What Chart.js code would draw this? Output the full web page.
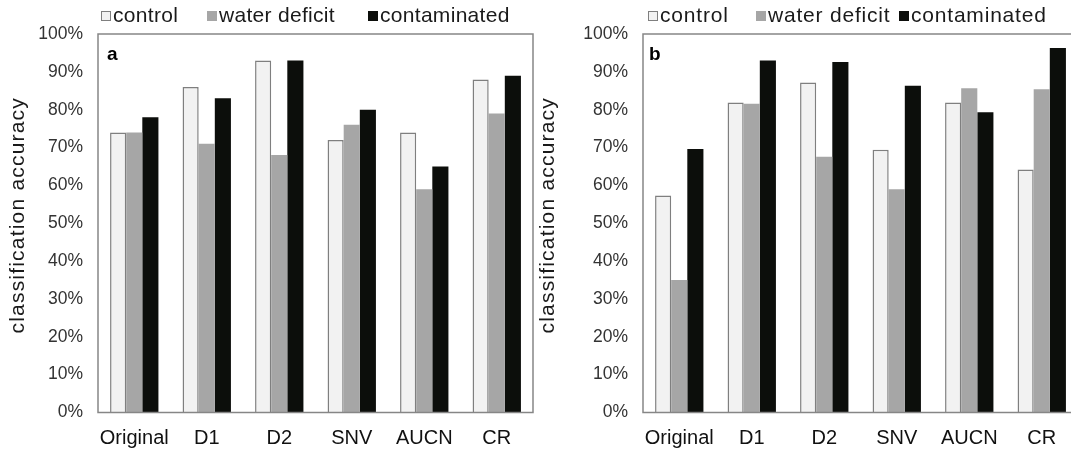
<!DOCTYPE html>
<html>
<head>
<meta charset="utf-8">
<script src="https://cdn.jsdelivr.net/npm/chart.js@4/dist/chart.umd.min.js"></script>
<style>
  html, body { margin: 0; padding: 0; background: #ffffff; overflow: hidden; }
  #wrap { position: relative; width: 1071px; height: 450px; overflow: hidden; background: #ffffff; }
  canvas { position: absolute; top: 0; }
  #chartA { left: 0; }
  #chartB { left: 530px; }
</style>
</head>
<body>
<div id="wrap">
  <canvas id="chartA" width="538" height="450" style="width:538px;height:450px"></canvas>
  <canvas id="chartB" width="560" height="450" style="width:560px;height:450px"></canvas>
</div>
<script>
// Pre-processing methods on the x axis
const categories = ['Original', 'D1', 'D2', 'SNV', 'AUCN', 'CR'];
const seriesNames = ['control', 'water deficit', 'contaminated'];
const yTicks = [0, 10, 20, 30, 40, 50, 60, 70, 80, 90, 100];

// Panel a: classification accuracy (%)
const controlA      = [74, 86, 93, 72, 74, 88];
const waterDeficitA = [74, 71, 68, 76, 59, 79];
const contaminatedA = [78, 83, 93, 80, 65, 89];

// Panel b: classification accuracy (%)
const controlB      = [57.3, 81.9, 87.2, 69.4, 81.9, 64.2];
const waterDeficitB = [35.0, 81.6, 67.6, 59.0, 85.7, 85.4];
const contaminatedB = [69.6, 93.0, 92.6, 86.3, 79.3, 96.3];

const FONT = "'Liberation Sans', Arial, sans-serif";
Chart.defaults.font.family = FONT;

const seriesStyle = [
  { backgroundColor: '#f2f2f2', borderColor: '#7f7f7f', borderWidth: 1.5 },
  { backgroundColor: '#a6a6a6', borderColor: '#a6a6a6', borderWidth: 0 },
  { backgroundColor: '#0c0e0b', borderColor: '#0c0e0b', borderWidth: 0 }
];

// Grey box around the plotting area
const framePlugin = {
  id: 'frame',
  afterDatasetsDraw(chart) {
    const { ctx, chartArea: a } = chart;
    ctx.save();
    ctx.strokeStyle = '#868686';
    ctx.lineWidth = 1.5;
    ctx.strokeRect(a.left, a.top, a.right - a.left, a.bottom - a.top);
    ctx.restore();
  }
};

// Slightly tracked-out lettering for the y-axis title, nudged upward
const titleSpacingPlugin = {
  id: 'titleSpacing',
  beforeDraw(chart, args, opts) {
    const y = chart.scales.y;
    if (y && !y._spaced) {
      const orig = y.drawTitle;
      y.drawTitle = function () {
        const ctx = this.ctx;
        ctx.save();
        ctx.letterSpacing = opts.spacing + 'px';
        ctx.translate(0, opts.shift);
        orig.apply(this, arguments);
        ctx.restore();
      };
      y._spaced = true;
    }
  }
};

// Compact legend row above the plot (square marker directly before each name)
const legendRowPlugin = {
  id: 'legendRow',
  afterDraw(chart, args, opts) {
    const ctx = chart.ctx;
    ctx.save();
    ctx.font = opts.size + 'px ' + FONT;
    ctx.letterSpacing = opts.spacing + 'px';
    ctx.textBaseline = 'alphabetic';
    ctx.textAlign = 'left';
    chart.data.datasets.forEach((ds, i) => {
      const x = opts.x[i], s = opts.box, t = opts.boxTop;
      ctx.fillStyle = ds.backgroundColor;
      ctx.fillRect(x, t, s, s);
      if (ds.borderWidth) {
        ctx.strokeStyle = ds.borderColor;
        ctx.lineWidth = 1;
        ctx.strokeRect(x + 0.5, t + 0.5, s - 1, s - 1);
      }
      ctx.fillStyle = opts.color;
      ctx.fillText(ds.label, x + s + opts.gap, opts.baseline);
    });
    ctx.restore();
  }
};

// Panel letter in the upper-left corner of the plot
const panelLetterPlugin = {
  id: 'panelLetter',
  afterDraw(chart, args, opts) {
    const { ctx, chartArea: a } = chart;
    ctx.save();
    ctx.font = 'bold ' + opts.size + 'px ' + FONT;
    ctx.fillStyle = '#000000';
    ctx.textBaseline = 'alphabetic';
    ctx.fillText(opts.text, a.left + opts.dx, a.top + opts.dy);
    ctx.restore();
  }
};

function makeChart(canvasId, letter, control, water, contaminated, geo) {
  const values = [control, water, contaminated];
  return new Chart(document.getElementById(canvasId), {
    type: 'bar',
    data: {
      labels: categories,
      datasets: seriesNames.map((name, i) => Object.assign({
        label: name,
        data: values[i],
        borderSkipped: 'start',
        categoryPercentage: 0.667,
        barPercentage: 1.0
      }, seriesStyle[i]))
    },
    options: {
      responsive: false,
      animation: false,
      events: [],
      layout: { padding: { left: 0, right: geo.padRight, top: 34, bottom: 0 } },
      plugins: {
        legend: { display: false },
        tooltip: { enabled: false },
        titleSpacing: { spacing: 1.2, shift: -8 },
        legendRow: { x: geo.legendX, box: 10, boxTop: 11, gap: 2, baseline: 22, size: 21, spacing: geo.legendSpacing, color: '#1a1a1a' },
        panelLetter: { text: letter, size: 19, dx: geo.letterDx, dy: 26 }
      },
      scales: {
        x: {
          grid: { display: false, drawTicks: false },
          border: { display: false },
          ticks: { font: { size: 20 }, color: '#111111', padding: 14, maxRotation: 0, autoSkip: false },
          afterFit(scale) { scale.height = 37.5; }
        },
        y: {
          min: 0,
          max: 100,
          afterBuildTicks(scale) { scale.ticks = yTicks.map(v => ({ value: v })); },
          grid: { display: false, drawTicks: false },
          border: { display: false },
          ticks: { font: { size: 17.5 }, color: '#333333', padding: 15, callback: v => v + '%' },
          title: { display: true, text: 'classification accuracy', font: { size: 21 }, color: '#1a1a1a', padding: { top: 6, bottom: 0 } },
          afterFit(scale) { scale.width = geo.yWidth; }
        }
      }
    },
    plugins: [framePlugin, titleSpacingPlugin, legendRowPlugin, panelLetterPlugin]
  });
}

makeChart('chartA', 'a', controlA, waterDeficitA, contaminatedA,
  { padRight: 5, yWidth: 98, legendX: [101, 207, 368], legendSpacing: 0.3, letterDx: 9 });
makeChart('chartB', 'b', controlB, waterDeficitB, contaminatedB,
  { padRight: 12, yWidth: 113, legendX: [118, 226, 369], legendSpacing: 0.8, letterDx: 6 });
</script>
</body>
</html>
